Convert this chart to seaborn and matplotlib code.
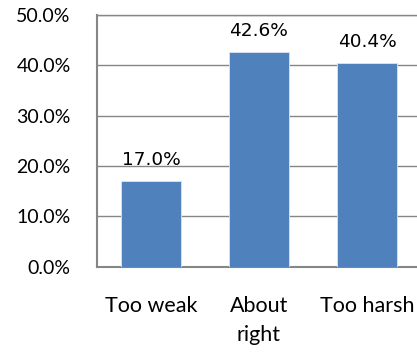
import matplotlib
matplotlib.use("Agg")
import matplotlib.pyplot as plt
from matplotlib.ticker import FuncFormatter, MultipleLocator
import seaborn as sns
import pandas as pd

categories = ["Too weak", "About\nright", "Too harsh"]
shares = [17.0, 42.6, 40.4]
value_labels = ["17.0%", "42.6%", "40.4%"]

sns.set_style("white")
plt.rcParams["font.family"] = ["Lato", "DejaVu Sans"]

df = pd.DataFrame({"category": categories, "share": shares})

fig = plt.figure(figsize=(4.17, 3.54), dpi=100)
ax = fig.add_axes([97 / 417, 1 - 266.7 / 354, 324 / 417, 251.7 / 354])

sns.barplot(data=df, x="category", y="share", color="#4F81BD", saturation=1,
            width=0.56, edgecolor="#dce6f2", linewidth=0.6, ax=ax, zorder=3)

ax.set_ylim(0, 50)
ax.set_xlim(-0.5, 2.5)
ax.yaxis.set_major_locator(MultipleLocator(10))
ax.yaxis.set_major_formatter(FuncFormatter(lambda v, _: f"{v:.1f}%"))
ax.grid(axis="y", color="#868686", linewidth=1.0, zorder=0)
ax.set_axisbelow(True)
ax.set_xlabel("")
ax.set_ylabel("")

for side in ["left", "top", "bottom", "right"]:
    ax.spines[side].set_color("#868686")
    ax.spines[side].set_visible(True)
ax.spines["left"].set_linewidth(1.5)
ax.spines["bottom"].set_linewidth(1.5)
ax.spines["top"].set_linewidth(1.0)

ax.tick_params(axis="y", length=0, pad=19, labelsize=14, labelcolor="#000000")
ax.tick_params(axis="x", length=0, pad=21, labelsize=15.5, labelcolor="#000000")
for lbl in ax.get_xticklabels():
    lbl.set_linespacing(1.6)

for cont in ax.containers:
    ax.bar_label(cont, labels=value_labels, padding=9, fontsize=13.3,
                 family="DejaVu Sans", color="#000000")

fig.savefig("out.png", dpi=100)
